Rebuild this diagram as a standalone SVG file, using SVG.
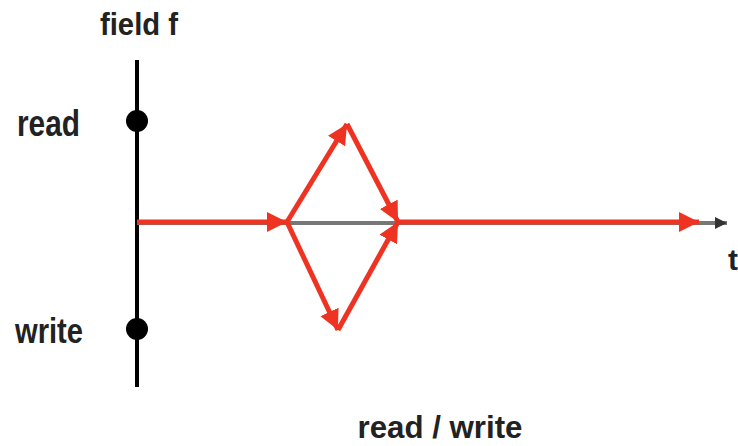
<svg xmlns="http://www.w3.org/2000/svg" width="738" height="446" viewBox="0 0 738 446">
<style>
.lbl{font-family:"Liberation Sans",Arial,sans-serif;font-weight:bold;fill:#222;}
.red{stroke:#ee3322;stroke-width:5;fill:none;marker-end:url(#ra);}
</style>
<defs>
<marker id="ra" markerUnits="userSpaceOnUse" markerWidth="22" markerHeight="22" refX="20" refY="10" orient="auto">
<path d="M0,0 L20,10 L0,20 z" fill="#ee3322"/>
</marker>
<marker id="ga" markerUnits="userSpaceOnUse" markerWidth="14" markerHeight="14" refX="12" refY="6" orient="auto">
<path d="M0,0 L12,6 L0,12 z" fill="#333"/>
</marker>
</defs>
<g id="labels">
<text class="lbl" x="139" y="35" font-size="31" text-anchor="middle" textLength="78" lengthAdjust="spacingAndGlyphs">field f</text>
<text class="lbl" x="17" y="136" font-size="37" textLength="63" lengthAdjust="spacingAndGlyphs">read</text>
<text class="lbl" x="15" y="343" font-size="35" textLength="68" lengthAdjust="spacingAndGlyphs">write</text>
<text class="lbl" x="440" y="438" font-size="31" text-anchor="middle" textLength="165" lengthAdjust="spacingAndGlyphs">read / write</text>
<text class="lbl" x="728" y="270" font-size="30">t</text>
</g>
<g id="field-axis">
<line x1="137" y1="60" x2="137" y2="387" stroke="#000" stroke-width="4"/>
<circle id="read-dot" cx="137" cy="121" r="11" fill="#000"/>
<circle id="write-dot" cx="137" cy="329" r="11" fill="#000"/>
</g>
<g id="connectors">
<line x1="137" y1="223" x2="727" y2="223" stroke="#777" stroke-width="4" marker-end="url(#ga)"/>
<line class="red" x1="137" y1="222" x2="287" y2="222"/>
<line class="red" x1="287" y1="222" x2="347" y2="124"/>
<line class="red" x1="347" y1="124" x2="398" y2="222"/>
<line class="red" x1="287" y1="222" x2="338" y2="330"/>
<line class="red" x1="338" y1="330" x2="398" y2="222"/>
<line class="red" x1="398" y1="222" x2="699" y2="222"/>
</g>
</svg>
